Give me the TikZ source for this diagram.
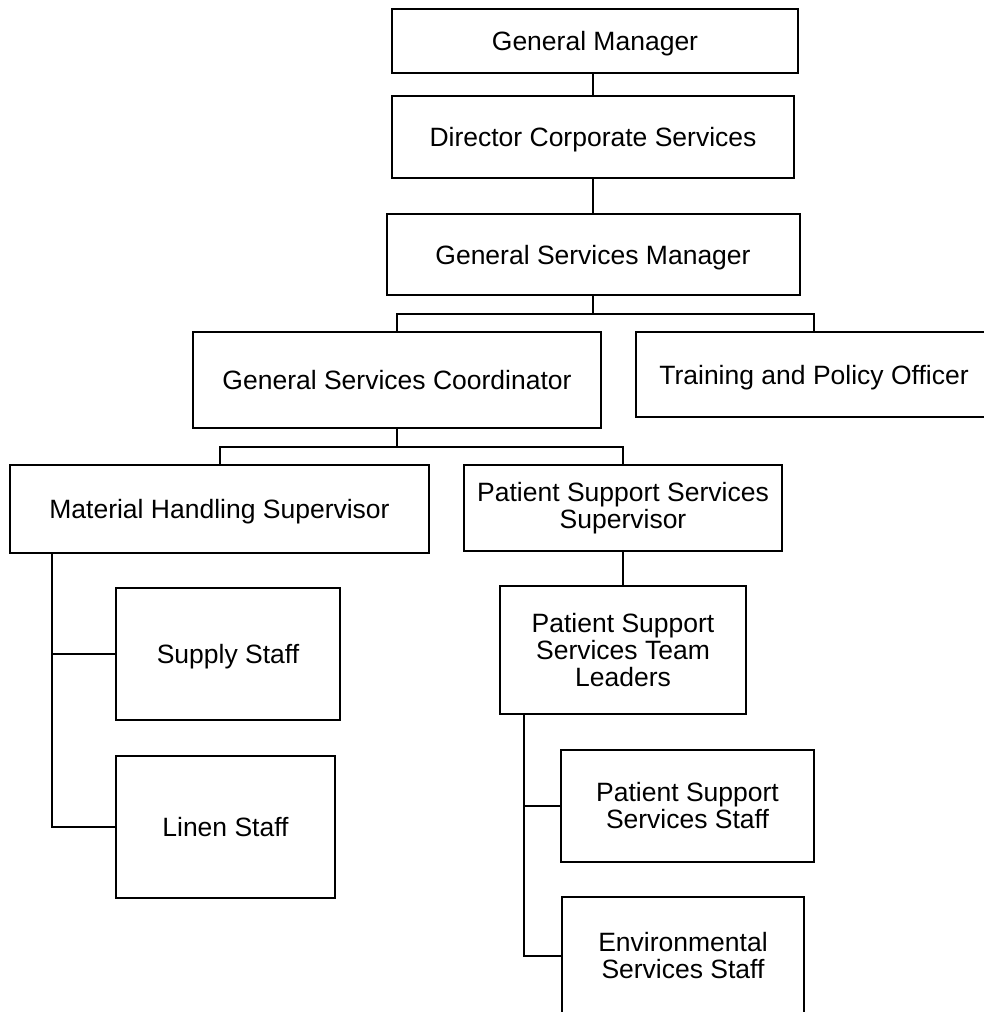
\documentclass[tikz,border=0pt]{standalone}
\usepackage{fontspec}
\setmainfont{Liberation Sans}
\begin{document}
\begin{tikzpicture}[x=1pt,y=-1pt,
  box/.style={draw=black, line width=2pt, rectangle, inner sep=0pt,
    align=center, font=\fontsize{26.5}{27}\selectfont},
  onebox/.style={box, text height=19pt, text depth=0pt},
  link/.style={draw=black, line width=2pt}]
\clip (0,0) rectangle (984,1012);
\fill[white] (0,0) rectangle (984,1012);

% management chain
\node[onebox, minimum width=406, minimum height=64] (gm)   at (595,41)    {General Manager};
\node[onebox, minimum width=402, minimum height=82] (dcs)  at (593,137)   {Director Corporate Services};
\node[onebox, minimum width=413, minimum height=81] (gsm)  at (593,254.5) {General Services Manager};
\node[onebox, minimum width=408, minimum height=96] (gsc)  at (397,380)   {General Services Coordinator};
\node[onebox, minimum width=356, minimum height=85] (tpo)  at (814,374.5) {Training and Policy Officer};

% supervisors
\node[onebox, minimum width=419, minimum height=88] (mhs)  at (219.5,509) {Material Handling Supervisor};
\node[box, minimum width=318, minimum height=86] (psss) at (623,508)   {Patient Support Services\\Supervisor};

% material handling staff
\node[onebox, minimum width=224, minimum height=132] (sup) at (228,654)   {Supply Staff};
\node[onebox, minimum width=219, minimum height=142] (lin) at (225.5,827) {Linen Staff};

% patient support services
\node[box, minimum width=246, minimum height=128] (pstl) at (623,650)  {Patient Support\\Services Team\\Leaders};
\node[box, minimum width=253, minimum height=112] (pss)  at (687.5,806) {Patient Support\\Services Staff};
\node[box, minimum width=242, minimum height=118] (env)  at (683,956)  {Environmental\\Services Staff};

% junction points
\coordinate (b1) at (593,314);
\coordinate (b2) at (397,447);
\coordinate (mt) at (52,553);
\coordinate (pt) at (524,714);

% connectors
\draw[link] (gm.south -| dcs.north) -- (dcs.north);
\draw[link] (dcs.south) -- (gsm.north);
\draw[link] (gsm.south) -- (b1);
\draw[link] (gsc.north) |- (b1) -| (tpo.north);
\draw[link] (gsc.south) -- (b2);
\draw[link] (mhs.north) |- (b2) -| (psss.north);
\draw[link] (psss.south) -- (pstl.north);
\draw[link] (mt) |- (lin.west);
\draw[link] (sup.west) -- (sup.west -| mt);
\draw[link] (pt) |- (env.west);
\draw[link] (pss.west) -- (pss.west -| pt);
\end{tikzpicture}
\end{document}
